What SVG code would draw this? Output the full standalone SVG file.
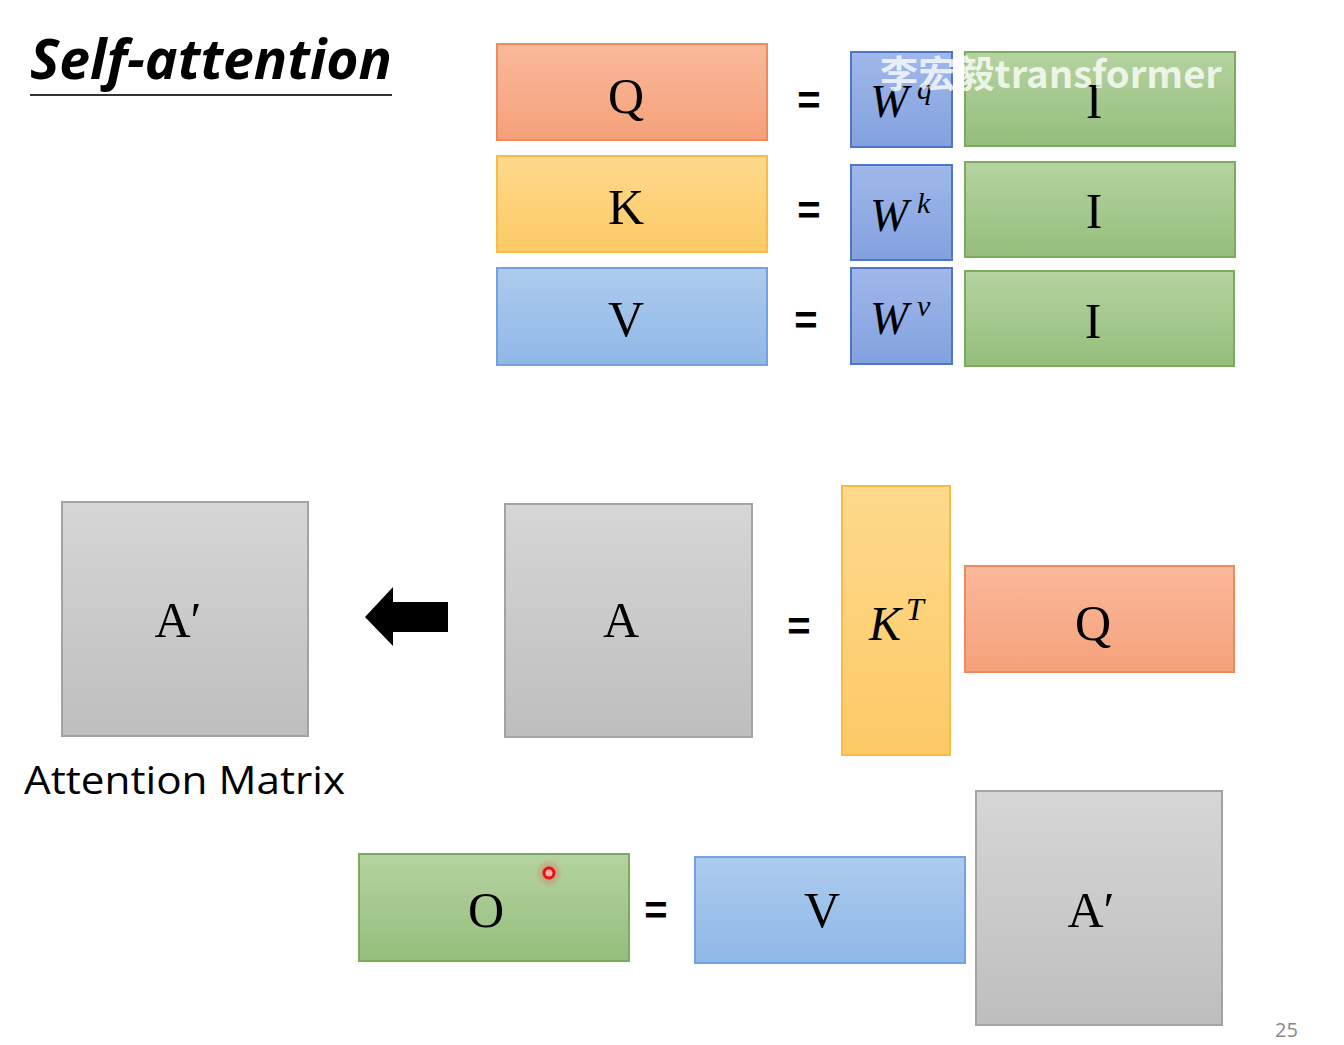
<svg xmlns="http://www.w3.org/2000/svg" width="1344" height="1045" viewBox="0 0 1344 1045">
<defs>
<linearGradient id="gOr" x1="0" y1="0" x2="0" y2="1"><stop offset="0" stop-color="#fab99b"/><stop offset="1" stop-color="#f5a17a"/></linearGradient>
<linearGradient id="gYe" x1="0" y1="0" x2="0" y2="1"><stop offset="0" stop-color="#fed98c"/><stop offset="1" stop-color="#fcca66"/></linearGradient>
<linearGradient id="gBl" x1="0" y1="0" x2="0" y2="1"><stop offset="0" stop-color="#adcbee"/><stop offset="1" stop-color="#8fb8e7"/></linearGradient>
<linearGradient id="gDb" x1="0" y1="0" x2="0" y2="1"><stop offset="0" stop-color="#a0b8ea"/><stop offset="1" stop-color="#83a1df"/></linearGradient>
<linearGradient id="gGr" x1="0" y1="0" x2="0" y2="1"><stop offset="0" stop-color="#b5d3a0"/><stop offset="1" stop-color="#95be7c"/></linearGradient>
<linearGradient id="gGy" x1="0" y1="0" x2="0" y2="1"><stop offset="0" stop-color="#d6d6d6"/><stop offset="1" stop-color="#bebebe"/></linearGradient>
<radialGradient id="glow"><stop offset="0" stop-color="#ff3030" stop-opacity="0.5"/><stop offset="1" stop-color="#ff3030" stop-opacity="0"/></radialGradient>
</defs>
<style>
.or{fill:url(#gOr);stroke:#f08a5c;stroke-width:2}
.ye{fill:url(#gYe);stroke:#f6bc45;stroke-width:2}
.bl{fill:url(#gBl);stroke:#72a3de;stroke-width:2}
.db{fill:url(#gDb);stroke:#4f76c6;stroke-width:2}
.gr{fill:url(#gGr);stroke:#7bab5c;stroke-width:2}
.gy{fill:url(#gGy);stroke:#a3a3a3;stroke-width:2}
.lb{font-family:"Liberation Serif","DejaVu Serif",serif;font-size:50px;fill:#000;text-anchor:middle}
.mi{font-family:"Liberation Serif","DejaVu Serif",serif;font-style:italic;fill:#000}
.eq{font-family:"Liberation Sans",Arial,sans-serif;font-size:40px;font-weight:bold;fill:#000;text-anchor:middle}
</style>
<rect width="1344" height="1045" fill="#ffffff"/>
<g id="title">
<text x="30" y="79" font-family="'Open Sans','Liberation Sans',sans-serif" font-size="56" font-weight="bold" font-style="italic" fill="#000" textLength="362" lengthAdjust="spacingAndGlyphs">Self-attention</text>
<line x1="30" y1="95" x2="392" y2="95" stroke="#333" stroke-width="2"/>
</g>
<g id="Q1"><rect class="or" x="497" y="44" width="270" height="96"/><text class="lb" x="626" y="113">Q</text></g>
<g id="K1"><rect class="ye" x="497" y="156" width="270" height="96"/><text class="lb" x="626" y="224">K</text></g>
<g id="V1"><rect class="bl" x="497" y="268" width="270" height="97"/><text class="lb" x="626" y="336">V</text></g>
<g id="eq1"><text class="eq" x="809" y="114">=</text><text class="eq" x="809" y="224">=</text><text class="eq" x="806" y="334">=</text></g>
<g id="Wq"><rect class="db" x="851" y="52" width="101" height="95"/><text class="mi" x="870" y="117" font-size="46">W</text><text class="mi" x="917" y="99" font-size="30">q</text></g>
<g id="Wk"><rect class="db" x="851" y="165" width="101" height="95"/><text class="mi" x="870" y="231" font-size="46">W</text><text class="mi" x="917" y="213" font-size="30">k</text></g>
<g id="Wv"><rect class="db" x="851" y="268" width="101" height="96"/><text class="mi" x="870" y="334" font-size="46">W</text><text class="mi" x="917" y="316" font-size="30">v</text></g>
<g id="I1"><rect class="gr" x="965" y="52" width="270" height="94"/><text class="lb" x="1094" y="118">I</text></g>
<g id="I2"><rect class="gr" x="965" y="162" width="270" height="95"/><text class="lb" x="1094" y="228">I</text></g>
<g id="I3"><rect class="gr" x="965" y="271" width="269" height="95"/><text class="lb" x="1093" y="338">I</text></g>
<g id="watermark" font-family="'Noto Sans CJK SC','Noto Sans',sans-serif" fill="#ffffff" fill-opacity="0.8">
<text x="880" y="88" font-size="37" font-weight="bold" textLength="342" lengthAdjust="spacingAndGlyphs">李宏毅transformer</text>
</g>
<g id="Aprime1"><rect class="gy" x="62" y="502" width="246" height="234"/><text class="lb" x="178" y="637">A′</text></g>
<g id="connectors"><polygon points="365,617 393,587 393,602 448,602 448,632 393,632 393,646" fill="#000"/></g>
<g id="A"><rect class="gy" x="505" y="504" width="247" height="233"/><text class="lb" x="621" y="637">A</text></g>
<g id="eq2"><text class="eq" x="799" y="640">=</text></g>
<g id="KT"><rect class="ye" x="842" y="486" width="108" height="269"/><text class="mi" x="869" y="640" font-size="48">K</text><text class="mi" x="906" y="620" font-size="32">T</text></g>
<g id="Q2"><rect class="or" x="965" y="566" width="269" height="106"/><text class="lb" x="1093" y="640">Q</text></g>
<g id="label"><text x="24" y="794" font-family="'Open Sans','Liberation Sans',sans-serif" font-size="38" fill="#000" textLength="321" lengthAdjust="spacingAndGlyphs">Attention Matrix</text></g>
<g id="O"><rect class="gr" x="359" y="854" width="270" height="107"/><text class="lb" x="486" y="927">O</text></g>
<g id="eq3"><text class="eq" x="656" y="924">=</text></g>
<g id="V2"><rect class="bl" x="695" y="857" width="270" height="106"/><text class="lb" x="822" y="927">V</text></g>
<g id="Aprime2"><rect class="gy" x="976" y="791" width="246" height="234"/><text class="lb" x="1091" y="927">A′</text></g>
<g id="pointer"><circle cx="549" cy="873" r="14" fill="url(#glow)"/><circle cx="549" cy="873" r="5" fill="#ffb0b0" stroke="#e81010" stroke-width="3"/></g>
<g id="page"><text x="1275" y="1037" font-family="'Open Sans','Liberation Sans',sans-serif" font-size="20" fill="#888">25</text></g>
</svg>
